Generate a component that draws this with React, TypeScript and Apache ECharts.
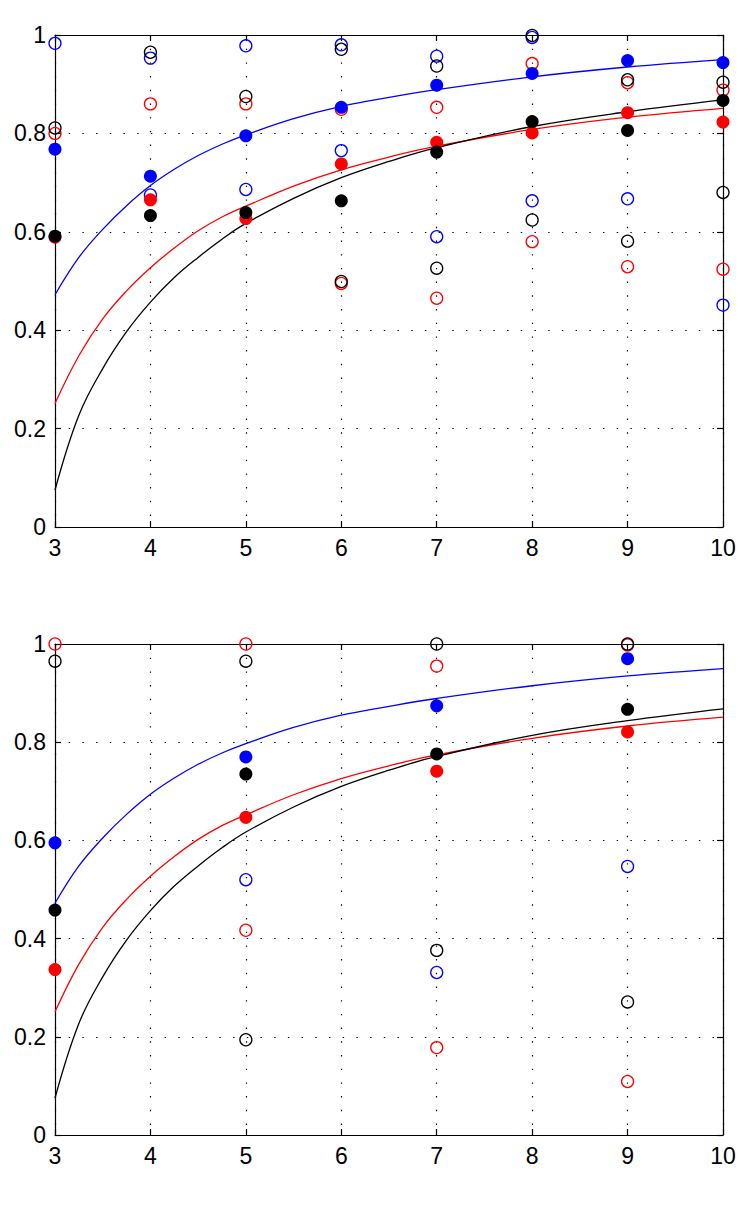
import React, { useEffect, useRef } from "react";
import * as echarts from "echarts";

// ---- data ----
const xTicks = [3, 4, 5, 6, 7, 8, 9, 10];

// fitted curves, shared by both panels
const curveX = [3, 3.25, 3.5, 3.75, 4, 4.25, 4.5, 4.75, 5, 5.5, 6, 6.5, 7, 8, 9, 10];
const curveBlue = [0.472, 0.548, 0.605, 0.653, 0.694, 0.727, 0.755, 0.778, 0.797, 0.83, 0.855, 0.873, 0.889, 0.915, 0.935, 0.95];
const curveRed = [0.251, 0.348, 0.423, 0.48, 0.527, 0.567, 0.602, 0.63, 0.652, 0.693, 0.726, 0.752, 0.774, 0.808, 0.833, 0.851];
const curveBlack = [0.075, 0.227, 0.322, 0.397, 0.457, 0.507, 0.548, 0.585, 0.617, 0.668, 0.71, 0.743, 0.771, 0.814, 0.844, 0.868];

// top panel markers
const topOpenBlue = [[3, 0.983], [4, 0.953], [4, 0.675], [5, 0.978], [5, 0.686], [6, 0.98], [6, 0.765], [7, 0.957], [7, 0.59], [8, 0.995], [8, 0.663], [9, 0.667], [10, 0.451]];
const topOpenRed = [[3, 0.8], [4, 0.86], [5, 0.86], [6, 0.849], [6, 0.495], [7, 0.853], [7, 0.465], [8, 0.942], [8, 0.58], [9, 0.903], [9, 0.529], [10, 0.888], [10, 0.524]];
const topOpenBlack = [[3, 0.811], [4, 0.965], [5, 0.875], [6, 0.971], [6, 0.499], [7, 0.937], [7, 0.526], [8, 0.999], [8, 0.624], [9, 0.909], [9, 0.581], [10, 0.904], [10, 0.68]];
const topFilledBlue = [[3, 0.768], [4, 0.713], [5, 0.795], [6, 0.853], [7, 0.898], [8, 0.922], [9, 0.948], [10, 0.944]];
const topFilledRed = [[3, 0.589], [4, 0.665], [5, 0.627], [6, 0.738], [7, 0.782], [8, 0.801], [9, 0.842], [10, 0.823]];
const topFilledBlack = [[3, 0.591], [4, 0.633], [5, 0.639], [6, 0.663], [7, 0.762], [8, 0.824], [9, 0.806], [10, 0.867]];

// bottom panel markers
const botOpenBlue = [[5, 0.52], [7, 0.331], [9, 0.547]];
const botOpenRed = [[3, 1.0], [5, 1.0], [5, 0.417], [7, 0.955], [7, 0.178], [9, 0.998], [9, 0.109]];
const botOpenBlack = [[3, 0.965], [5, 0.965], [5, 0.194], [7, 1.0], [7, 0.376], [9, 1.0], [9, 0.271]];
const botFilledBlue = [[3, 0.595], [5, 0.77], [7, 0.874], [9, 0.97]];
const botFilledRed = [[3, 0.337], [5, 0.647], [7, 0.741], [9, 0.821]];
const botFilledBlack = [[3, 0.458], [5, 0.735], [7, 0.776], [9, 0.867]];

const BLUE = "#0000ff";
const RED = "#ff0000";
const BLACK = "#000000";
const FONT = "Liberation Sans";

export default function App() {
  const ref = useRef<HTMLDivElement>(null);

  useEffect(() => {
    const chart = echarts.init(ref.current as HTMLDivElement, null, { renderer: "svg" });

    const axisLine = { show: true, onZero: false, lineStyle: { color: BLACK, width: 1.2 } };
    const gridDots = { show: true, lineStyle: { color: BLACK, width: 1.2, type: [1.4, 12.3] as any } };
    const ticks = { show: true, inside: true, length: 6, lineStyle: { color: BLACK, width: 1.2 } };
    const labels = { show: true, color: BLACK, fontSize: 23, fontFamily: FONT, margin: 9 };

    const xAxisPair = (gi: number) => [
      {
        type: "value", gridIndex: gi, position: "bottom", min: xTicks[0], max: xTicks[xTicks.length - 1], interval: 1,
        axisLine, axisTick: ticks, axisLabel: labels, splitLine: gridDots,
      },
      {
        type: "value", gridIndex: gi, position: "top", min: xTicks[0], max: xTicks[xTicks.length - 1], interval: 1,
        axisLine, axisTick: ticks, axisLabel: { show: false }, splitLine: { show: false },
      },
    ];
    const yAxisPair = (gi: number) => [
      {
        type: "value", gridIndex: gi, position: "left", min: 0, max: 1, interval: 0.2,
        axisLine, axisTick: ticks, axisLabel: labels, splitLine: gridDots,
      },
      {
        type: "value", gridIndex: gi, position: "right", min: 0, max: 1, interval: 0.2,
        axisLine, axisTick: ticks, axisLabel: { show: false }, splitLine: { show: false },
      },
    ];

    const curve = (ax: number, ys: number[], color: string) => ({
      type: "line", xAxisIndex: ax, yAxisIndex: ax, data: curveX.map((x, i) => [x, ys[i]]),
      smooth: 0.4, showSymbol: false, symbol: "none", silent: true, z: 2,
      lineStyle: { color, width: 1.3, opacity: 1 }, itemStyle: { color },
    });
    const openPts = (ax: number, data: number[][], color: string) => ({
      type: "scatter", xAxisIndex: ax, yAxisIndex: ax, data, symbol: "circle", symbolSize: 12, silent: true, clip: false, z: 3,
      itemStyle: { color: "rgba(0,0,0,0)", borderColor: color, borderWidth: 1.3, opacity: 1 },
    });
    const filledPts = (ax: number, data: number[][], color: string) => ({
      type: "scatter", xAxisIndex: ax, yAxisIndex: ax, data, symbol: "circle", symbolSize: 13, silent: true, clip: false, z: 4,
      itemStyle: { color, opacity: 1 },
    });

    const option: any = {
      animation: false,
      backgroundColor: "#ffffff",
      grid: [
        { left: 55, top: 35, width: 668, height: 492 },
        { left: 55, top: 644, width: 668, height: 491 },
      ],
      xAxis: [...xAxisPair(0), ...xAxisPair(1)],
      yAxis: [...yAxisPair(0), ...yAxisPair(1)],
      series: [
        curve(0, curveBlue, BLUE), curve(0, curveRed, RED), curve(0, curveBlack, BLACK),
        openPts(0, topOpenBlue, BLUE), openPts(0, topOpenRed, RED), openPts(0, topOpenBlack, BLACK),
        filledPts(0, topFilledBlue, BLUE), filledPts(0, topFilledRed, RED), filledPts(0, topFilledBlack, BLACK),
        curve(2, curveBlue, BLUE), curve(2, curveRed, RED), curve(2, curveBlack, BLACK),
        openPts(2, botOpenBlue, BLUE), openPts(2, botOpenRed, RED), openPts(2, botOpenBlack, BLACK),
        filledPts(2, botFilledBlue, BLUE), filledPts(2, botFilledRed, RED), filledPts(2, botFilledBlack, BLACK),
      ],
    };
    chart.setOption(option);
    return () => chart.dispose();
  }, []);

  return (
    <div
      ref={ref}
      style={{ position: "absolute", left: 0, top: 0, width: 747, height: 1206, background: "#fff" }}
    />
  );
}
